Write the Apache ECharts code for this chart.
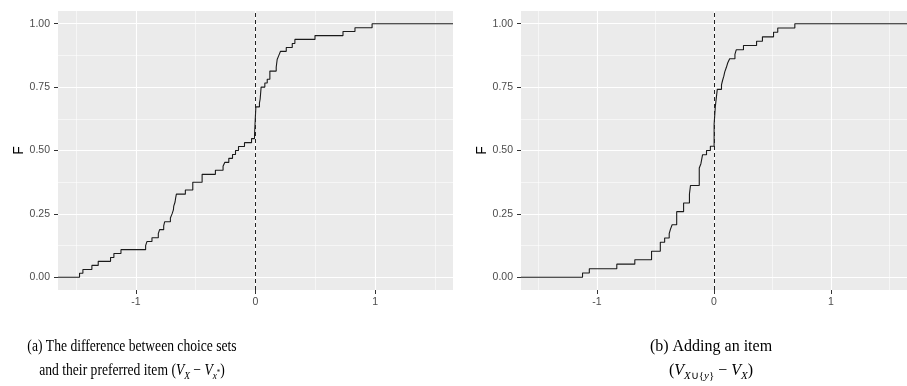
<!DOCTYPE html>
<html>
<head>
<meta charset="utf-8">
<script src="https://cdn.jsdelivr.net/npm/echarts@6/dist/echarts.min.js"></script>
<style>
  html, body { margin: 0; padding: 0; background: #fff; }
  #chart { width: 907px; height: 386px; }
</style>
</head>
<body>
<div id="chart"></div>
<script>
// Empirical CDF jump points: x where a step occurs, F = cumulative share after it.
// (a) choice set value minus value of its preferred item
const diffX = [-1.470, -1.442, -1.367, -1.314, -1.211, -1.183, -1.124, -0.918, -0.907, -0.865,
  -0.812, -0.801, -0.767, -0.759, -0.711, -0.697, -0.686, -0.683, -0.672, -0.667,
  -0.661, -0.586, -0.524, -0.446, -0.335, -0.271, -0.257, -0.223, -0.192, -0.167,
  -0.142, -0.092, -0.033, -0.008, 0.003, 0.033, 0.039, 0.047, 0.078, 0.098,
  0.120, 0.173, 0.181, 0.195, 0.209, 0.257, 0.307, 0.329, 0.497, 0.731,
  0.831, 0.974];
const diffF = [0.016, 0.031, 0.047, 0.063, 0.078, 0.094, 0.109, 0.125, 0.141, 0.156,
  0.172, 0.188, 0.203, 0.219, 0.234, 0.25, 0.266, 0.281, 0.297, 0.313,
  0.328, 0.344, 0.375, 0.406, 0.422, 0.438, 0.453, 0.469, 0.484, 0.5,
  0.516, 0.531, 0.547, 0.563, 0.672, 0.688, 0.703, 0.75, 0.766, 0.781,
  0.813, 0.828, 0.859, 0.875, 0.891, 0.906, 0.922, 0.938, 0.953, 0.969,
  0.984, 1];

// (b) value gained by adding an item to a set
const addX = [-1.124, -1.066, -0.831, -0.677, -0.534, -0.459, -0.422, -0.383, -0.372, -0.358,
  -0.319, -0.260, -0.210, -0.201, -0.126, -0.112, -0.098, -0.064, -0.031, 0.001,
  0.011, 0.028, 0.064, 0.073, 0.084, 0.092, 0.106, 0.117, 0.134, 0.179,
  0.190, 0.252, 0.364, 0.414, 0.509, 0.545, 0.691];
const addF = [0.017, 0.034, 0.052, 0.069, 0.103, 0.138, 0.155, 0.172, 0.190, 0.207,
  0.259, 0.293, 0.328, 0.362, 0.431, 0.448, 0.483, 0.5, 0.517, 0.603,
  0.672, 0.741, 0.759, 0.776, 0.793, 0.810, 0.828, 0.845, 0.862, 0.879,
  0.897, 0.914, 0.931, 0.948, 0.966, 0.983, 1];

// Axes
const xRange = [-1.65, 1.65];
const yRange = [-0.05, 1.05];
const xMajorTicks = [-1, 0, 1];
const xTickLabels = ['-1', '0', '1'];
const xMinorTicks = [-1.5, -0.5, 0.5, 1.5];
const yMajorTicks = [0, 0.25, 0.5, 0.75, 1];
const yTickLabels = ['0.00', '0.25', '0.50', '0.75', '1.00'];
const yMinorTicks = [0.125, 0.375, 0.625, 0.875];
const yTitle = 'F';

const SANS = '"Liberation Sans", Arial, sans-serif';
const SERIF = '"Liberation Serif", "Times New Roman", serif';

function labelFor(ticks, labels) {
  return function (v) {
    for (let i = 0; i < ticks.length; i++) {
      if (Math.abs(ticks[i] - v) < 1e-9) return labels[i];
    }
    return '';
  };
}

function majorX(g) {
  return {
    type: 'value', gridIndex: g, min: xRange[0], max: xRange[1], position: 'bottom',
    axisLine: { show: false, onZero: false },
    axisTick: { show: true, length: 4, customValues: xMajorTicks, lineStyle: { color: '#333', width: 1 } },
    axisLabel: { customValues: xMajorTicks, formatter: labelFor(xMajorTicks, xTickLabels),
      color: '#4D4D4D', fontSize: 10.5, fontFamily: SANS, margin: 7 },
    splitLine: { show: true, lineStyle: { color: '#FFFFFF', width: 1.1 } }
  };
}
function minorX(g) {
  return {
    type: 'value', gridIndex: g, min: xRange[0], max: xRange[1], position: 'top',
    axisLine: { show: false, onZero: false }, axisLabel: { show: false },
    axisTick: { show: false, customValues: xMinorTicks },
    splitLine: { show: true, lineStyle: { color: '#FFFFFF', width: 0.55 } }
  };
}
function majorY(g) {
  return {
    type: 'value', gridIndex: g, min: yRange[0], max: yRange[1], position: 'left',
    name: yTitle, nameLocation: 'middle', nameGap: 30, nameRotate: 90,
    nameTextStyle: { color: '#000', fontSize: 14, fontFamily: SANS },
    axisLine: { show: false, onZero: false },
    axisTick: { show: true, length: 4, customValues: yMajorTicks, lineStyle: { color: '#333', width: 1 } },
    axisLabel: { customValues: yMajorTicks, formatter: labelFor(yMajorTicks, yTickLabels),
      color: '#4D4D4D', fontSize: 10.5, fontFamily: SANS, margin: 8 },
    splitLine: { show: true, lineStyle: { color: '#FFFFFF', width: 1.1 } }
  };
}
function minorY(g) {
  return {
    type: 'value', gridIndex: g, min: yRange[0], max: yRange[1], position: 'right',
    axisLine: { show: false, onZero: false }, axisLabel: { show: false },
    axisTick: { show: false, customValues: yMinorTicks },
    splitLine: { show: true, lineStyle: { color: '#FFFFFF', width: 0.55 } }
  };
}

function ecdfSeries(xs, fs, axisIdx) {
  const data = [[xRange[0], 0]];
  for (let i = 0; i < xs.length; i++) data.push([xs[i], fs[i]]);
  data.push([xRange[1], fs[fs.length - 1]]);
  return {
    type: 'line', step: 'end', xAxisIndex: axisIdx, yAxisIndex: axisIdx,
    data: data, showSymbol: false, silent: true, animation: false, z: 3,
    lineStyle: { color: '#1a1a1a', width: 1.1 },
    markLine: {
      silent: true, symbol: ['none', 'none'], label: { show: false },
      lineStyle: { color: '#222', width: 1, type: [4, 3] },
      data: [{ xAxis: 0 }]
    }
  };
}

// Caption rich-text styles: base style is the subscript size, main tokens are padded
// underneath so subscripts sit lower on the line.
const capRich = {
  n: { fontFamily: SERIF, fontSize: 16, lineHeight: 18, padding: [0, 0, 10, 0], color: '#000' },
  i: { fontFamily: SERIF, fontSize: 16, lineHeight: 18, padding: [0, 0, 10, 0], fontStyle: 'italic', color: '#000' },
  si: { fontFamily: SERIF, fontSize: 11, lineHeight: 12, fontStyle: 'italic', color: '#000' },
  sp: { fontFamily: SERIF, fontSize: 8, lineHeight: 9, padding: [0, 0, 7, 0], color: '#000' }
};
function caption(text, x, y, sx) {
  return {
    type: 'text', x: x, y: y, scaleX: sx, silent: true,
    style: {
      text: text, rich: capRich, fill: '#000',
      font: '11px ' + SERIF, lineHeight: 12,
      align: 'center', verticalAlign: 'middle'
    }
  };
}

const chart = echarts.init(document.getElementById('chart'), null, { renderer: 'canvas' });
chart.setOption({
  animation: false,
  backgroundColor: '#FFFFFF',
  grid: [
    { left: 58, top: 11, width: 395, height: 279, show: true, backgroundColor: '#EBEBEB', borderWidth: 0 },
    { left: 521, top: 11, width: 386, height: 279, show: true, backgroundColor: '#EBEBEB', borderWidth: 0 }
  ],
  xAxis: [majorX(0), minorX(0), majorX(1), minorX(1)],
  yAxis: [majorY(0), minorY(0), majorY(1), minorY(1)],
  series: [ecdfSeries(diffX, diffF, 0), ecdfSeries(addX, addF, 2)],
  graphic: [
    caption('{n|(a) The difference between choice sets}', 132, 352, 0.85),
    caption('{n|and their preferred item (}{i|V}{si|X}{n| \u2212 }{i|V}{si|x}{sp|*}{n|)}', 132, 376, 0.85),
    caption('{n|(b) Adding an item}', 711, 352, 1),
    caption('{n|(}{i|V}{si|X}\u222A{{si|y}}{n| \u2212 }{i|V}{si|X}{n|)}', 711, 376, 1)
  ]
});
</script>
</body>
</html>
